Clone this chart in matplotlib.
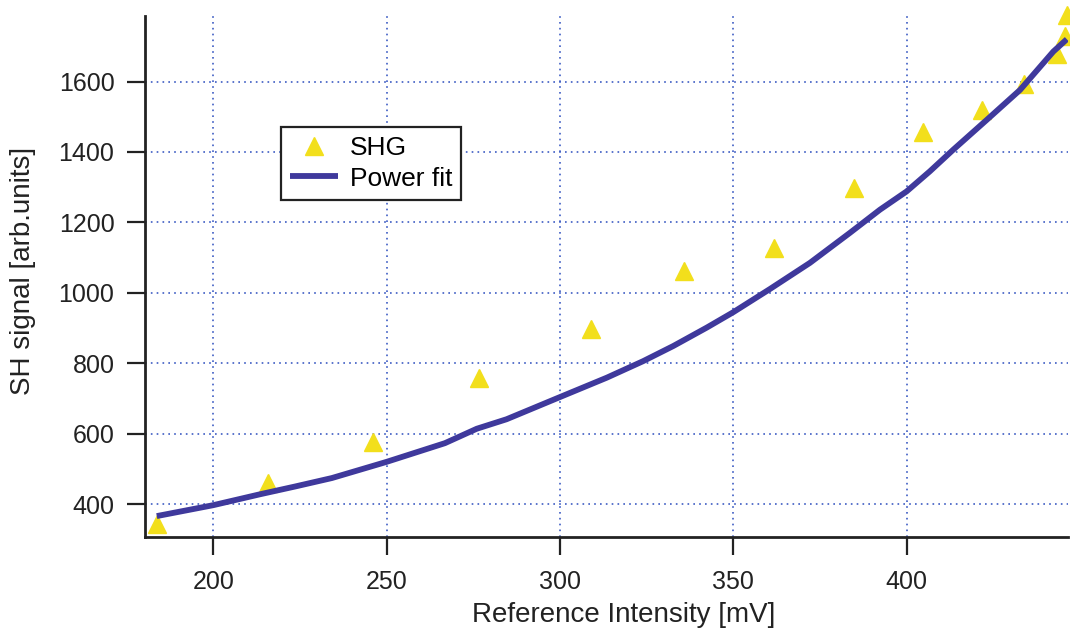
import matplotlib
matplotlib.use("Agg")
import matplotlib.pyplot as plt

plt.rcParams['font.family'] = ['Liberation Sans', 'DejaVu Sans']

# measured SHG signal vs reference intensity
ref_mV = [183.9, 215.7, 246.0, 276.7, 308.9, 335.7, 361.8, 384.9,
          404.6, 421.6, 433.8, 443.4, 445.7, 446.2]
shg = [344, 461, 575, 759, 896, 1063, 1128, 1298,
       1456, 1518, 1592, 1678, 1729, 1789]

# power-law fit curve
fit_x = [183.7, 200, 213.5, 223.6, 234.2, 250, 266.8, 276, 284.6, 300,
         313.5, 324, 332.7, 342.3, 350, 360.6, 372.1, 383.6, 392.3, 400,
         406.7, 413.4, 423.1, 432.7, 442.3, 446.2]
fit_y = [366, 397, 428, 450, 474, 520, 573, 614, 641, 704,
         759, 806, 849, 901, 945, 1011, 1085, 1170, 1236, 1288,
         1345, 1406, 1491, 1576, 1685, 1720]

xticks = [200, 250, 300, 350, 400]
yticks = [400, 600, 800, 1000, 1200, 1400, 1600]

fig = plt.figure(figsize=(10.7, 6.35), dpi=100)
ax = fig.add_axes([0.1355, 0.1551, 0.8625, 0.8197])

ax.plot(ref_mV, shg, linestyle='none', marker='^', ms=13, color='#f2df1c',
        mec='#f2df1c', clip_on=False, zorder=3, label='SHG')
ax.plot(fit_x, fit_y, color='#3f399c', lw=4.2, solid_capstyle='butt',
        zorder=4, label='Power fit')

ax.set_xlim(180.3, 446.5)
ax.set_ylim(308, 1786)
ax.set_xticks(xticks)
ax.set_yticks(yticks)

ax.grid(True, color='#3d5cc4', linestyle=(0, (1, 2.5)), linewidth=1.2)
ax.set_axisbelow(True)

for side in ('top', 'right'):
    ax.spines[side].set_visible(False)
for side in ('left', 'bottom'):
    ax.spines[side].set_linewidth(2)
    ax.spines[side].set_color('#222222')

ax.tick_params(direction='out', length=13, width=1.6, color='#222222',
               labelsize=18, labelcolor='#222222', pad=9)
ax.tick_params(axis='x', pad=11)

ax.set_xlabel('Reference Intensity [mV]', fontsize=20, color='#222222', labelpad=6)
ax.set_ylabel('SH signal [arb.units]', fontsize=20, color='#222222', labelpad=16)
ax.xaxis.label.set_x(0.519)
ax.yaxis.label.set_y(0.51)

leg = ax.legend(loc='upper left', bbox_to_anchor=(281 / 1070, 1 - 126.7 / 635),
                bbox_transform=fig.transFigure, borderaxespad=0, numpoints=1,
                fontsize=19, frameon=True, fancybox=False, framealpha=1,
                handlelength=1.8, handletextpad=0.45, borderpad=0.35,
                labelspacing=0.25)
leg.get_frame().set_edgecolor('#222222')
leg.get_frame().set_linewidth(1.6)

fig.savefig('out.png', dpi=100)
